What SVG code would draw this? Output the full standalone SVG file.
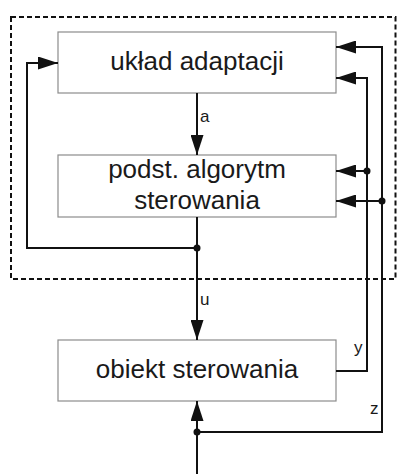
<svg xmlns="http://www.w3.org/2000/svg" width="397" height="474" viewBox="0 0 397 474">
  <defs>
    <style>
      .box { fill: #ffffff; stroke: #8c8c8c; stroke-width: 1.2; }
      .title { font-family: "Liberation Sans", Arial, sans-serif; font-size: 26px; fill: #1a1a1a; text-anchor: middle; }
      .lbl { font-family: "Liberation Sans", Arial, sans-serif; font-size: 17px; fill: #1a1a1a; }
      .wire { fill: none; stroke: #111111; stroke-width: 2; }
      .dot { fill: #111111; }
      .frame { fill: none; stroke: #111111; stroke-width: 2; stroke-dasharray: 5 3; }
    </style>
    <marker id="arrow" viewBox="0 0 20 13" refX="20" refY="6.5" markerWidth="20" markerHeight="13" markerUnits="userSpaceOnUse" orient="auto">
      <path d="M0 0 L20 6.5 L0 13 Z" fill="#111111"/>
    </marker>
  </defs>

  <!-- controller boundary -->
  <rect class="frame" x="11" y="17" width="384.5" height="262"/>

  <g id="node-adaptacja">
    <rect class="box" x="58" y="32" width="278" height="61"/>
    <text class="title" x="197" y="70">układ adaptacji</text>
  </g>

  <g id="node-algorytm">
    <rect class="box" x="58" y="155" width="278" height="62"/>
    <text class="title" x="197" y="178">podst. algorytm</text>
    <text class="title" x="197" y="209">sterowania</text>
  </g>

  <g id="node-obiekt">
    <rect class="box" x="58" y="340" width="278" height="61"/>
    <text class="title" x="197" y="378">obiekt sterowania</text>
  </g>

  <g id="connectors">
    <path class="wire" d="M197 93 V155" marker-end="url(#arrow)"/>
    <path class="wire" d="M197 217 V340" marker-end="url(#arrow)"/>
    <path class="wire" d="M197 248 H27 V63 H58" marker-end="url(#arrow)"/>
    <path class="wire" d="M197 432 H382 V47 H336" marker-end="url(#arrow)"/>
    <path class="wire" d="M382 201 H336" marker-end="url(#arrow)"/>
    <path class="wire" d="M336 371 H367 V78 H336" marker-end="url(#arrow)"/>
    <path class="wire" d="M367 171 H336" marker-end="url(#arrow)"/>
    <path class="wire" d="M197 474 V401" marker-end="url(#arrow)"/>
    <circle class="dot" cx="197" cy="248" r="3.5"/>
    <circle class="dot" cx="367" cy="171" r="3.5"/>
    <circle class="dot" cx="382" cy="201" r="3.5"/>
    <circle class="dot" cx="197" cy="432" r="3.5"/>
    <text class="lbl" x="200" y="122">a</text>
    <text class="lbl" x="200" y="305">u</text>
    <text class="lbl" x="354" y="353">y</text>
    <text class="lbl" x="370" y="414">z</text>
  </g>
</svg>
